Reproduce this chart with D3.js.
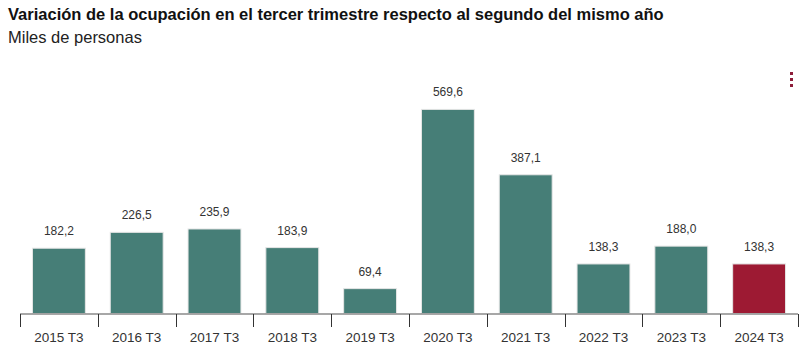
<!DOCTYPE html>
<html><head><meta charset="utf-8">
<script src="https://cdn.jsdelivr.net/npm/d3@7"></script>
<style>body{margin:0;background:#fff;}svg{display:block;font-family:"Liberation Sans",Arial,sans-serif;}</style>
</head><body>
<svg id="c" width="808" height="347"></svg>
<script>
const categories = ["2015 T3","2016 T3","2017 T3","2018 T3","2019 T3","2020 T3","2021 T3","2022 T3","2023 T3","2024 T3"];
const values = [182.2,226.5,235.9,183.9,69.4,569.6,387.1,138.3,188.0,138.3];
const highlight = ["2024 T3"];
const title = "Variación de la ocupación en el tercer trimestre respecto al segundo del mismo año";
const subtitle = "Miles de personas";

const svg = d3.select("#c");
svg.append("text").attr("x",8).attr("y",20).attr("font-size",16.5).attr("font-weight","bold").attr("fill","#111").text(title);
svg.append("text").attr("x",8).attr("y",43).attr("font-size",16.5).attr("fill","#222").text(subtitle);

// menu dots
[0,1,2].forEach(i=>svg.append("rect").attr("x",790).attr("y",72+i*6).attr("width",3).attr("height",3).attr("fill","#8e1d3a"));

const x = d3.scaleBand().domain(categories).range([20,798]).paddingInner(0.32).paddingOuter(0.16);
const y = d3.scaleLinear().domain([0,600]).range([313.5,98.5]);
const fmt = v => d3.format(".1f")(v).replace(".",",");

svg.append("g").selectAll("rect").data(categories).join("rect")
  .attr("x",d=>x(d)).attr("width",x.bandwidth())
  .attr("y",(d,i)=>y(values[i])).attr("height",(d,i)=>y(0)-y(values[i]))
  .attr("fill",d=>highlight.includes(d)?"#9d1a33":"#467e77")
  .attr("stroke","#e6e6e6").attr("stroke-width",1);

svg.append("g").selectAll("text").data(categories).join("text")
  .attr("x",d=>x(d)+x.bandwidth()/2).attr("y",(d,i)=>y(values[i])-13)
  .attr("text-anchor","middle").attr("font-size",12).attr("fill","#333")
  .text((d,i)=>fmt(values[i]));

// axis
const bandStep = x.step();
const edges = d3.range(categories.length+1).map(i=> i===0?20:(i===categories.length?798:x(categories[i-1])+x.bandwidth()+ (bandStep-x.bandwidth())/2));
svg.append("line").attr("x1",20).attr("x2",798).attr("y1",314).attr("y2",314).attr("stroke","#8a8a8a").attr("stroke-width",1.5);
svg.append("g").selectAll("line").data(edges).join("line")
  .attr("x1",d=>Math.round(d)+0.5).attr("x2",d=>Math.round(d)+0.5).attr("y1",314).attr("y2",327)
  .attr("stroke","#333").attr("stroke-width",1);
svg.append("g").selectAll("text").data(categories).join("text")
  .attr("x",d=>x(d)+x.bandwidth()/2).attr("y",342)
  .attr("text-anchor","middle").attr("font-size",13.5).attr("fill","#333").text(d=>d);
</script>
</body></html>
